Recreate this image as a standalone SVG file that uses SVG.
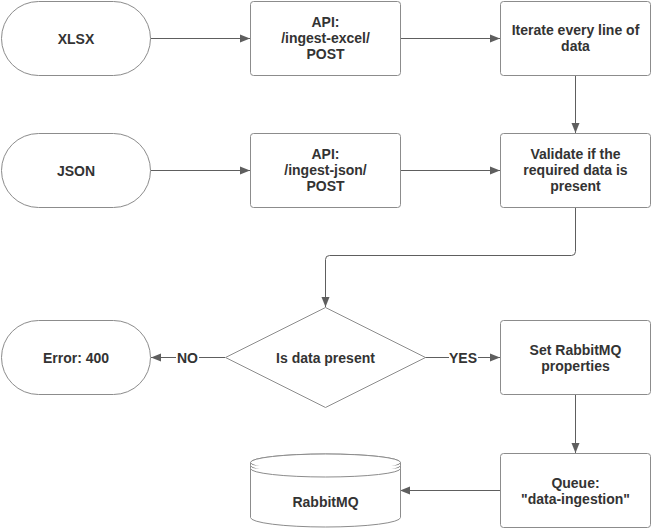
<svg xmlns="http://www.w3.org/2000/svg" width="651" height="529" viewBox="0 0 651 529">
<defs>
<style>
.n{fill:#fff;stroke:#8c8c8c;stroke-width:1}
.t{font-family:"Liberation Sans",Arial,sans-serif;font-weight:bold;font-size:14px;fill:#333;text-anchor:middle}
.c{fill:none;stroke:#5e5e5e;stroke-width:1}
</style>
<marker id="ah" markerWidth="10" markerHeight="10" refX="10" refY="5" orient="auto" markerUnits="userSpaceOnUse" viewBox="0 0 10 10">
<path d="M0,1 L10,5 L0,9 Z" fill="#5e5e5e"/>
</marker>
</defs>
<rect width="651" height="529" fill="#fff"/>
<g id="connectors">
<path class="c" d="M150.5,38.5 H250" marker-end="url(#ah)"/>
<path class="c" d="M400.5,38.5 H500" marker-end="url(#ah)"/>
<path class="c" d="M575.5,75.5 V133" marker-end="url(#ah)"/>
<path class="c" d="M150.5,170.5 H250" marker-end="url(#ah)"/>
<path class="c" d="M400.5,170.5 H500" marker-end="url(#ah)"/>
<path class="c" d="M575.5,207.5 V251.5 Q575.5,255.5 571.5,255.5 H329.5 Q325.5,255.5 325.5,259.5 V307" marker-end="url(#ah)"/>
<path class="c" d="M225,357.5 H199"/>
<path class="c" d="M176,357.5 H151" marker-end="url(#ah)"/>
<path class="c" d="M425,357.5 H449"/>
<path class="c" d="M478,357.5 H500" marker-end="url(#ah)"/>
<path class="c" d="M575.5,394.5 V453" marker-end="url(#ah)"/>
<path class="c" d="M500,490.5 H400" marker-end="url(#ah)"/>
<text class="t" x="187.5" y="362.5">NO</text>
<text class="t" x="463" y="362.5">YES</text>
</g>
<g id="xlsx">
<rect class="n" x="1.5" y="1.5" width="149" height="74" rx="37" ry="37"/>
<text class="t" x="76" y="43.5">XLSX</text>
</g>
<g id="api-excel">
<rect class="n" x="250.5" y="1.5" width="150" height="74" rx="3"/>
<text class="t" x="325.5" y="27">API:</text>
<text class="t" x="325.5" y="43">/ingest-excel/</text>
<text class="t" x="325.5" y="59">POST</text>
</g>
<g id="iterate">
<rect class="n" x="500.5" y="1.5" width="150" height="74" rx="3"/>
<text class="t" x="575.5" y="35">Iterate every line of</text>
<text class="t" x="575.5" y="51">data</text>
</g>
<g id="json">
<rect class="n" x="1.5" y="133.5" width="149" height="74" rx="37" ry="37"/>
<text class="t" x="76" y="175.5">JSON</text>
</g>
<g id="api-json">
<rect class="n" x="250.5" y="133.5" width="150" height="74" rx="3"/>
<text class="t" x="325.5" y="159">API:</text>
<text class="t" x="325.5" y="175">/ingest-json/</text>
<text class="t" x="325.5" y="191">POST</text>
</g>
<g id="validate">
<rect class="n" x="500.5" y="133.5" width="150" height="74" rx="3"/>
<text class="t" x="575.5" y="159">Validate if the</text>
<text class="t" x="575.5" y="175">required data is</text>
<text class="t" x="575.5" y="191">present</text>
</g>
<g id="decision">
<path class="n" d="M325.5,307.5 L425.5,357.5 L325.5,407.5 L225.5,357.5 Z"/>
<text class="t" x="325.5" y="362.5">Is data present</text>
</g>
<g id="error">
<rect class="n" x="1.5" y="320.5" width="149" height="74" rx="37" ry="37"/>
<text class="t" x="76" y="362.5">Error: 400</text>
</g>
<g id="set-props">
<rect class="n" x="500.5" y="320.5" width="150" height="74" rx="3"/>
<text class="t" x="575.5" y="355">Set RabbitMQ</text>
<text class="t" x="575.5" y="371">properties</text>
</g>
<g id="queue">
<rect class="n" x="500.5" y="453.5" width="150" height="74" rx="3"/>
<text class="t" x="575.5" y="488">Queue:</text>
<text class="t" x="575.5" y="504">"data-ingestion"</text>
</g>
<g id="rabbitmq">
<path class="n" d="M250.5,462.5 V517.5 A75,9.5 0 0 0 400.5,517.5 V462.5 A75,8.5 0 0 0 250.5,462.5 Z"/>
<ellipse class="n" cx="325.5" cy="462.5" rx="75" ry="8.5"/>
<path class="n" fill="none" d="M250.5,465.5 A75,8.5 0 0 0 400.5,465.5"/>
<path class="n" fill="none" d="M250.5,468.5 A75,8.5 0 0 0 400.5,468.5"/>
<text class="t" x="325.5" y="507">RabbitMQ</text>
</g>
</svg>
